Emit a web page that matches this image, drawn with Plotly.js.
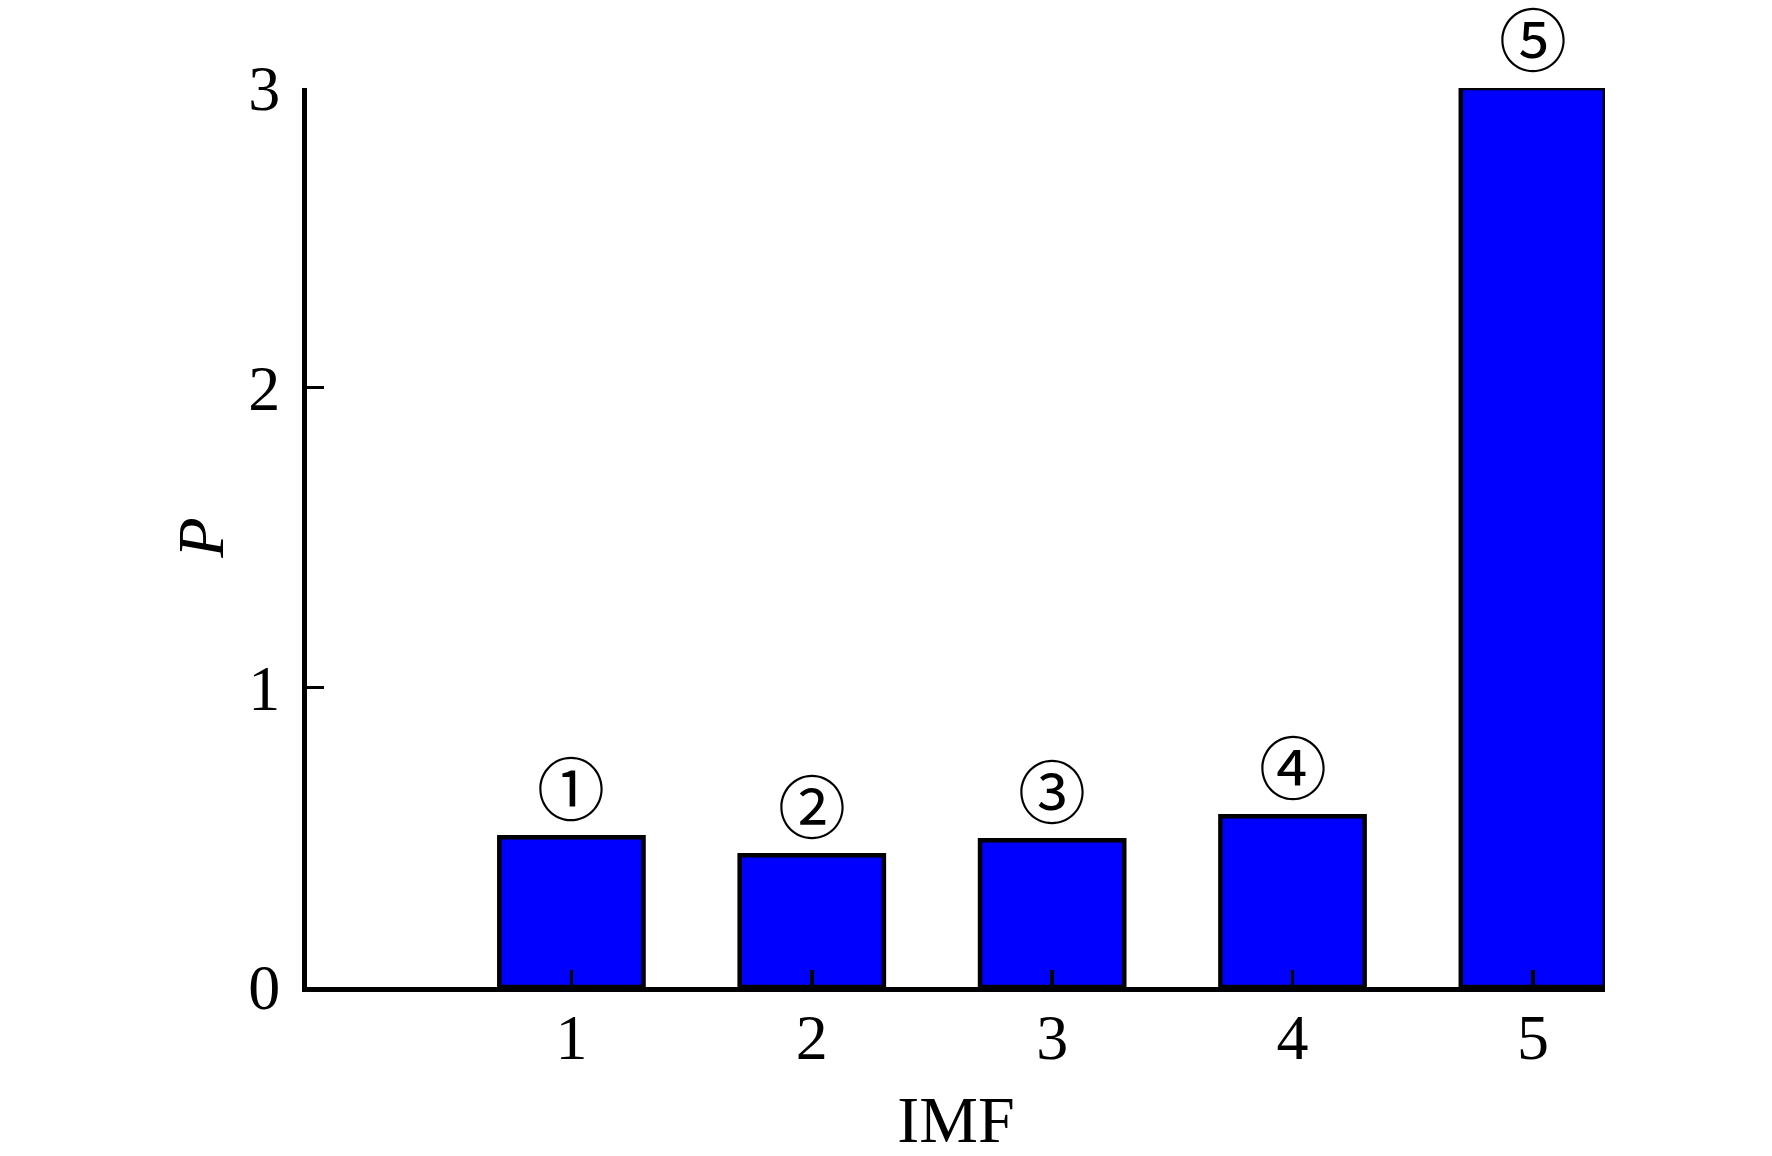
<!DOCTYPE html>
<html>
<head>
<meta charset="utf-8">
<script src="https://cdn.plot.ly/plotly-3.0.1.min.js"></script>
<style>
  body { margin: 0; background: #fff; }
  #myDiv { width: 1772px; height: 1156px; }
</style>
</head>
<body>
<div id="myDiv"></div>
<script>
// IMF components and their P values
var imf = [1, 2, 3, 4, 5];
var pValues = [0.50, 0.44, 0.49, 0.57, 3.0];
var marks = ['\u2460', '\u2461', '\u2462', '\u2463', '\u2464'];
var yTicks = [0, 1, 2, 3];

var serif = 'Liberation Serif, Times New Roman, serif';

var bars = {
  x: imf,
  y: pValues,
  type: 'bar',
  width: 0.6,
  marker: {
    color: '#0000ff',
    line: { color: '#000000', width: 4.5 }
  },
  cliponaxis: false,
  hoverinfo: 'x+y'
};

var notes = [];
for (var i = 0; i < imf.length; i++) {
  notes.push({
    x: imf[i],
    y: pValues[i],
    xref: 'x',
    yref: 'y',
    text: marks[i],
    showarrow: false,
    yanchor: 'bottom',
    yshift: 4,
    font: { family: 'DejaVu Serif, Noto Sans CJK JP, serif', size: 68, color: '#000' }
  });
}

var layout = {
  width: 1772,
  height: 1156,
  margin: { l: 307, r: 167, t: 88, b: 169, pad: 0 },
  paper_bgcolor: '#ffffff',
  plot_bgcolor: '#ffffff',
  showlegend: false,
  font: { family: serif, color: '#000' },
  xaxis: {
    range: [-0.1, 5.3],
    tickvals: imf,
    ticktext: imf.map(String),
    ticks: 'inside',
    ticklen: 17,
    tickwidth: 3.5,
    tickcolor: '#000',
    ticklabelstandoff: -10,
    showline: true,
    linecolor: '#000',
    linewidth: 5,
    showgrid: false,
    zeroline: false,
    tickfont: { family: serif, size: 64, color: '#000' },
    title: { text: 'IMF', font: { family: serif, size: 66, color: '#000' }, standoff: 30 }
  },
  yaxis: {
    range: [0, 3],
    tickvals: yTicks,
    ticktext: yTicks.map(String),
    ticks: 'inside',
    ticklen: 17,
    tickwidth: 3.5,
    tickcolor: '#000',
    ticklabelstandoff: 9,
    showline: true,
    linecolor: '#000',
    linewidth: 5,
    showgrid: false,
    zeroline: false,
    tickfont: { family: serif, size: 64, color: '#000' },
    title: { text: '<i>P</i>', font: { family: serif, size: 66, color: '#000' }, standoff: 5 }
  },
  annotations: notes
};

Plotly.newPlot('myDiv', [bars], layout, { displayModeBar: false, staticPlot: true });
</script>
</body>
</html>
